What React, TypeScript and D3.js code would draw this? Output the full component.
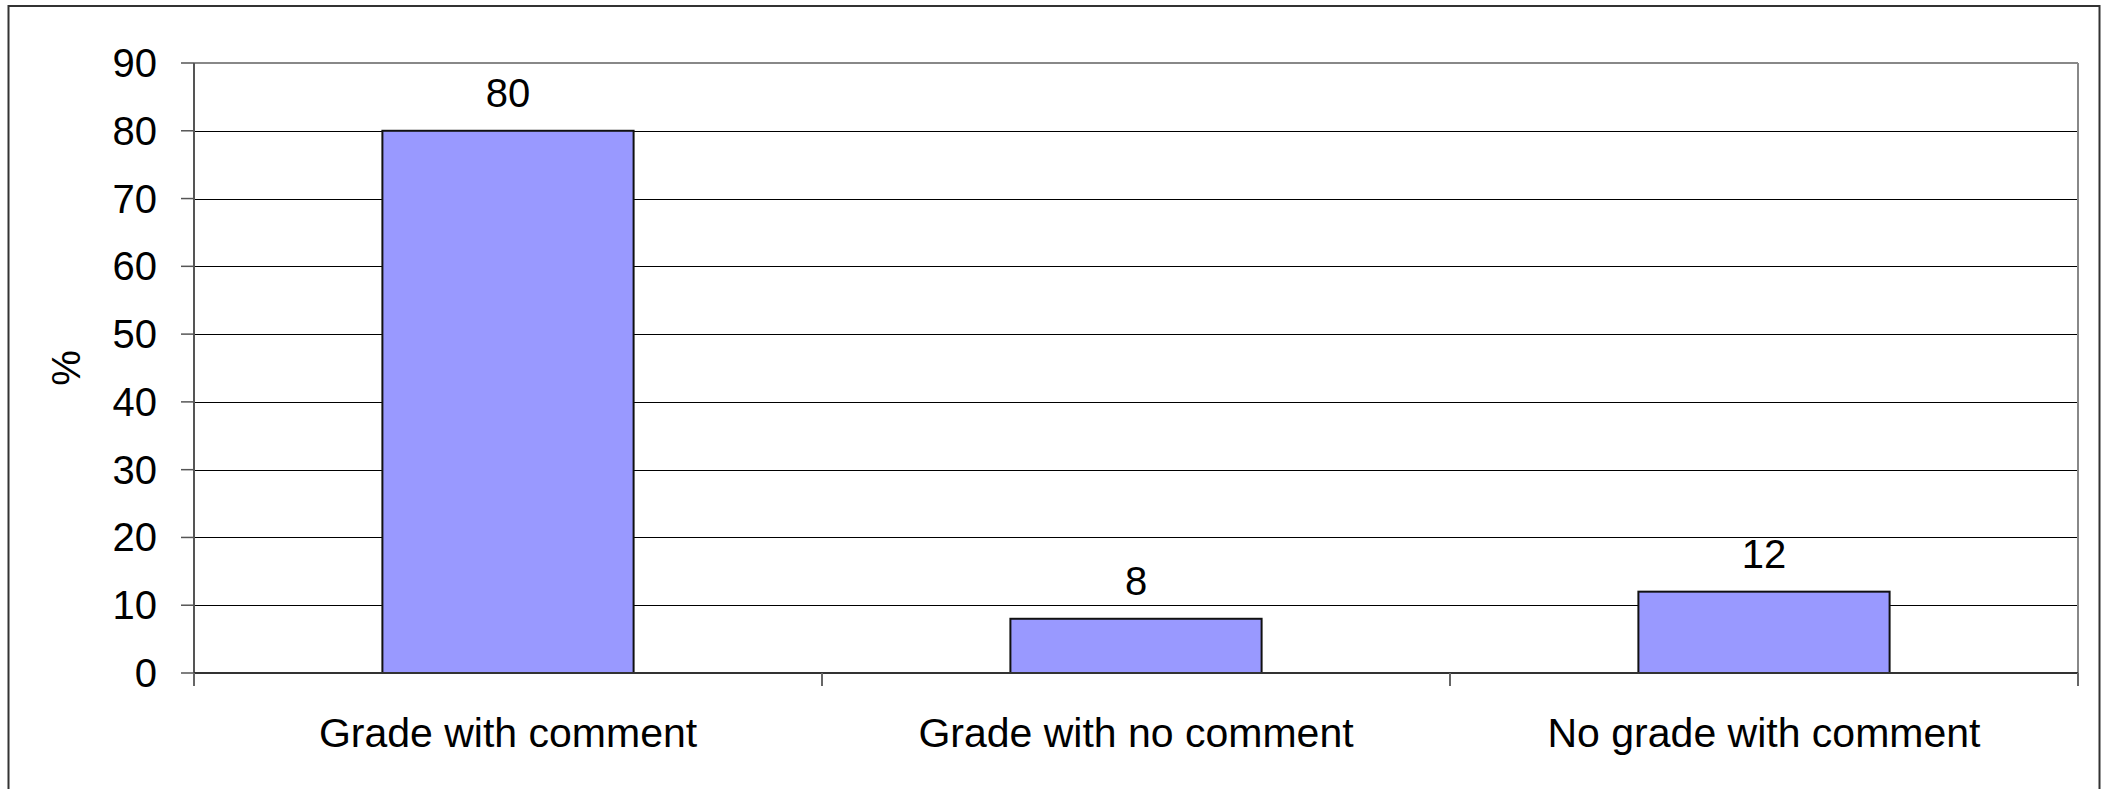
import React, { useEffect, useRef } from "react";
import * as d3 from "d3";

const categories = ["Grade with comment", "Grade with no comment", "No grade with comment"];
const values = [80, 8, 12];
const yTicks = [0, 10, 20, 30, 40, 50, 60, 70, 80, 90];
const yLabel = "%";

export default function App() {
  const ref = useRef<SVGSVGElement>(null);
  useEffect(() => {
    const svg = d3.select(ref.current);
    svg.selectAll("*").remove();
    const W = 2109, H = 789;
    const left = 194, right = 2078, top = 63, bottom = 673;
    const font = "'Liberation Sans', Arial, sans-serif";

    const x = d3.scaleBand<string>().domain(categories).range([left, right]).paddingInner(0).paddingOuter(0);
    const y = d3.scaleLinear().domain([0, 90]).range([bottom, top]);

    svg.append("rect").attr("x", 0).attr("y", 0).attr("width", W).attr("height", H).attr("fill", "#fff");
    // outer frame
    svg.append("rect").attr("x", 8.5).attr("y", 6).attr("width", 2091).attr("height", 800)
      .attr("fill", "none").attr("stroke", "#333").attr("stroke-width", 2);

    // gridlines
    svg.append("g").selectAll("line").data(yTicks.filter(t => t > 0 && t < 90)).join("line")
      .attr("x1", left).attr("x2", right)
      .attr("y1", d => Math.round(y(d)) + 0.5).attr("y2", d => Math.round(y(d)) + 0.5)
      .attr("stroke", "#000").attr("stroke-width", 1.2);
    // plot border top & right
    svg.append("line").attr("x1", left).attr("x2", right).attr("y1", y(90)).attr("y2", y(90))
      .attr("stroke", "#888").attr("stroke-width", 2);
    svg.append("line").attr("x1", right).attr("x2", right).attr("y1", y(90)).attr("y2", bottom)
      .attr("stroke", "#888").attr("stroke-width", 2);

    // bars
    const bw = x.bandwidth() / 2.5;
    svg.append("g").selectAll("rect").data(values).join("rect")
      .attr("x", (d, i) => (x(categories[i]) as number) + x.bandwidth() / 2 - bw / 2)
      .attr("y", d => y(d))
      .attr("width", bw)
      .attr("height", d => bottom - y(d))
      .attr("fill", "#9999FF").attr("stroke", "#111").attr("stroke-width", 2);

    // value labels
    svg.append("g").selectAll("text").data(values).join("text")
      .attr("x", (d, i) => (x(categories[i]) as number) + x.bandwidth() / 2)
      .attr("y", d => y(d) - 24)
      .attr("text-anchor", "middle").attr("font-family", font).attr("font-size", 40)
      .attr("fill", "#000").text(d => String(d));

    // y axis
    svg.append("line").attr("x1", left).attr("x2", left).attr("y1", top).attr("y2", bottom + 13)
      .attr("stroke", "#555").attr("stroke-width", 2);
    svg.append("g").selectAll("line").data(yTicks).join("line")
      .attr("x1", left - 13).attr("x2", left)
      .attr("y1", d => y(d)).attr("y2", d => y(d))
      .attr("stroke", "#555").attr("stroke-width", 1.5);
    svg.append("g").selectAll("text").data(yTicks).join("text")
      .attr("x", 157).attr("y", d => y(d) + 14)
      .attr("text-anchor", "end").attr("font-family", font).attr("font-size", 40)
      .attr("fill", "#000").text(d => String(d));

    // x axis
    svg.append("line").attr("x1", left).attr("x2", right).attr("y1", bottom).attr("y2", bottom)
      .attr("stroke", "#333").attr("stroke-width", 2);
    const bounds = categories.map(c => x(c) as number).concat([right]);
    svg.append("g").selectAll("line").data(bounds).join("line")
      .attr("x1", d => d).attr("x2", d => d).attr("y1", bottom).attr("y2", bottom + 13)
      .attr("stroke", "#666").attr("stroke-width", 2);
    svg.append("g").selectAll("text").data(categories).join("text")
      .attr("x", d => (x(d) as number) + x.bandwidth() / 2)
      .attr("y", 747)
      .attr("text-anchor", "middle").attr("font-family", font).attr("font-size", 41)
      .attr("fill", "#000").text(d => d);

    // y label
    svg.append("text").attr("transform", `translate(${80},${368}) rotate(-90)`)
      .attr("text-anchor", "middle").attr("font-family", font).attr("font-size", 40)
      .attr("fill", "#000").text(yLabel);
  }, []);
  return (
    <svg ref={ref} width={2109} height={789}
      style={{ position: "absolute", left: 0, top: 0, display: "block" }} />
  );
}
